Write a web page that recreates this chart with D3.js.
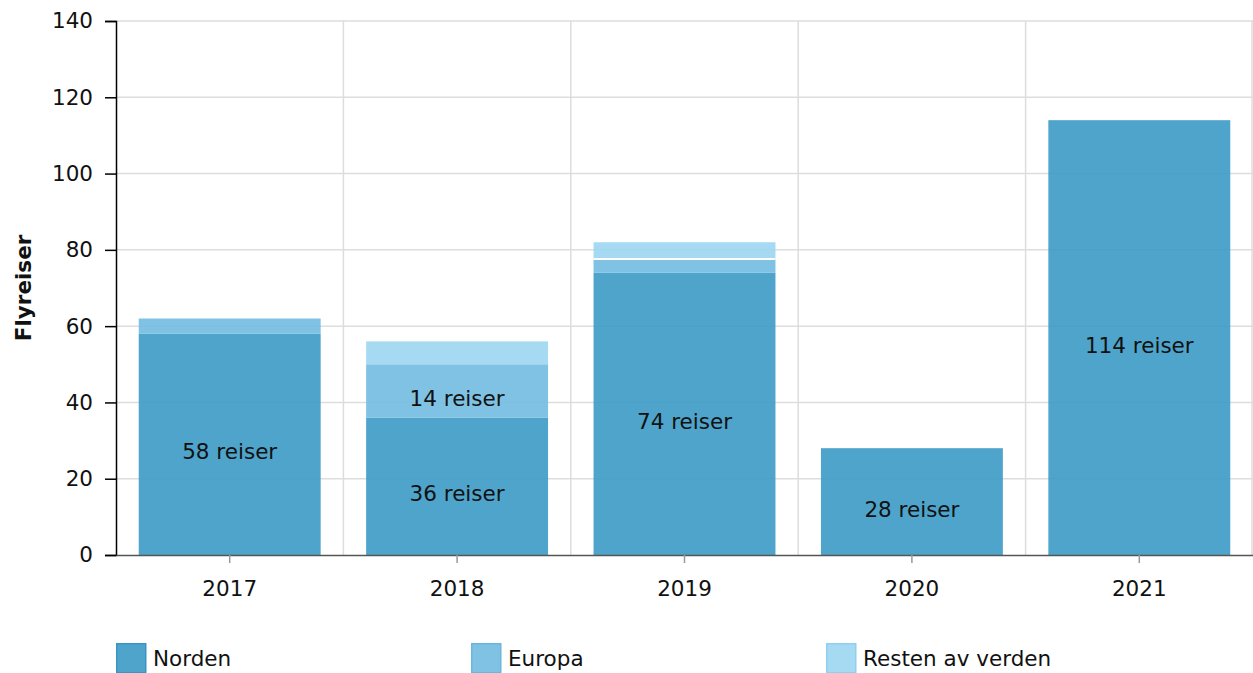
<!DOCTYPE html>
<meta charset="utf-8">
<style>
body { margin: 0; background: #fff; }
text { font-family: "DejaVu Sans", Verdana, sans-serif; }
.grid line { stroke: #ddd; stroke-width: 1.5px; }
</style>
<svg width="1253" height="673"></svg>
<script src="https://d3js.org/d3.v7.min.js"></script>
<script>

// data
var years = ["2017", "2018", "2019", "2020", "2021"];
var norden = [58, 36, 74, 28, 114];
var europa = [4, 14, 3.6, 0, 0];
var resten = [0, 6, 4.4, 0, 0];
var seriesNames = ["Norden", "Europa", "Resten av verden"];
var yTicks = [0, 20, 40, 60, 80, 100, 120, 140];

var colors = ["#3b9ac5", "#72bbe0", "#9bd6f1"];
var borders = ["#3b95c2", "#6bb6dd", "#8fd0ef"];
var fs = 21.5;

var svg = d3.select("svg"),
    pLeft = 116, pRight = 1253, pTop = 21, pBottom = 555;

var x = d3.scaleBand()
    .domain(years)
    .range([pLeft, pRight])
    .paddingInner(0.2)
    .paddingOuter(0.1);

var y = d3.scaleLinear()
    .domain([0, 140])
    .range([pBottom, pTop]);

var rows = years.map(function(yr, i) {
  return {year: yr, Norden: norden[i], Europa: europa[i], "Resten av verden": resten[i]};
});
var stacked = d3.stack().keys(seriesNames)(rows);

// grid
var grid = svg.append("g").attr("class", "grid");
grid.selectAll(".h").data(yTicks.slice(1)).enter().append("line")
    .attr("x1", pLeft).attr("x2", pRight)
    .attr("y1", function(d) { return y(d); })
    .attr("y2", function(d) { return y(d); });
var step = x.step();
var bounds = years.map(function(d, i) { return pLeft + step * (i + 1); });
grid.selectAll(".v").data(bounds).enter().append("line")
    .attr("x1", function(d) { return Math.min(d, pRight - 1); })
    .attr("x2", function(d) { return Math.min(d, pRight - 1); })
    .attr("y1", pTop).attr("y2", pBottom);

// bars
var layers = svg.append("g").selectAll("g")
  .data(stacked)
  .enter().append("g")
    .attr("fill", function(d, i) { return colors[i]; })
    .attr("fill-opacity", 0.9);

layers.selectAll("rect")
  .data(function(d) { return d.filter(function(s) { return s[1] - s[0] > 0; }); })
  .enter().append("rect")
    .attr("x", function(d) { return x(d.data.year); })
    .attr("width", x.bandwidth())
    .attr("y", function(d) { return y(d[1]); })
    .attr("height", function(d) { return y(d[0]) - y(d[1]); });

// white separator in 2019 between Europa and Resten
svg.append("line")
    .attr("x1", x("2019")).attr("x2", x("2019") + x.bandwidth())
    .attr("y1", y(norden[2] + europa[2])).attr("y2", y(norden[2] + europa[2]))
    .attr("stroke", "#fff").attr("stroke-width", 2);

// labels
var labels = [];
stacked.forEach(function(layer) {
  layer.forEach(function(d) {
    var v = d[1] - d[0];
    if (v >= 10) labels.push({year: d.data.year, v: v, mid: (d[0] + d[1]) / 2});
  });
});
svg.append("g").selectAll("text")
  .data(labels)
  .enter().append("text")
    .attr("x", function(d) { return x(d.year) + x.bandwidth() / 2; })
    .attr("y", function(d) { return y(d.mid) + 15; })
    .attr("text-anchor", "middle")
    .attr("font-size", fs)
    .attr("fill", "#111")
    .text(function(d) { return d.v + " reiser"; });

// axes
var yAxis = svg.append("g")
    .attr("transform", "translate(" + pLeft + ",0)")
    .call(d3.axisLeft(y).tickValues(yTicks).tickSize(11).tickPadding(12));
yAxis.select(".domain").attr("stroke", "#000").attr("stroke-width", 1.5);
yAxis.selectAll(".tick line").attr("stroke", "#000").attr("stroke-width", 1.5);
yAxis.selectAll("text").attr("font-size", fs).attr("fill", "#111")
    .attr("font-family", "DejaVu Sans, Verdana, sans-serif");

var xAxis = svg.append("g")
    .attr("transform", "translate(0," + pBottom + ")")
    .call(d3.axisBottom(x).tickSize(8).tickPadding(18).tickSizeOuter(0));
xAxis.select(".domain").attr("stroke", "#555").attr("stroke-width", 1.5);
xAxis.selectAll(".tick line").attr("stroke", "#999").attr("stroke-width", 1.5);
xAxis.selectAll("text").attr("font-size", fs).attr("fill", "#111")
    .attr("font-family", "DejaVu Sans, Verdana, sans-serif");

svg.append("text")
    .attr("transform", "translate(31," + ((pTop + pBottom) / 2) + ") rotate(-90)")
    .attr("text-anchor", "middle")
    .attr("font-size", fs)
    .attr("font-weight", "bold")
    .attr("fill", "#111")
    .text("Flyreiser");

// legend
var legend = svg.append("g").selectAll("g")
  .data(seriesNames)
  .enter().append("g")
    .attr("transform", function(d, i) { return "translate(" + (116 + i * 355) + ",643)"; });
legend.append("rect")
    .attr("x", 0.75).attr("y", 0.75)
    .attr("width", 29).attr("height", 29)
    .attr("fill", function(d, i) { return colors[i]; })
    .attr("fill-opacity", 0.9)
    .attr("stroke", function(d, i) { return borders[i]; })
    .attr("stroke-width", 1.5);
legend.append("text")
    .attr("x", 37).attr("y", 23)
    .attr("font-size", fs)
    .attr("fill", "#111")
    .text(function(d) { return d; });

</script>
